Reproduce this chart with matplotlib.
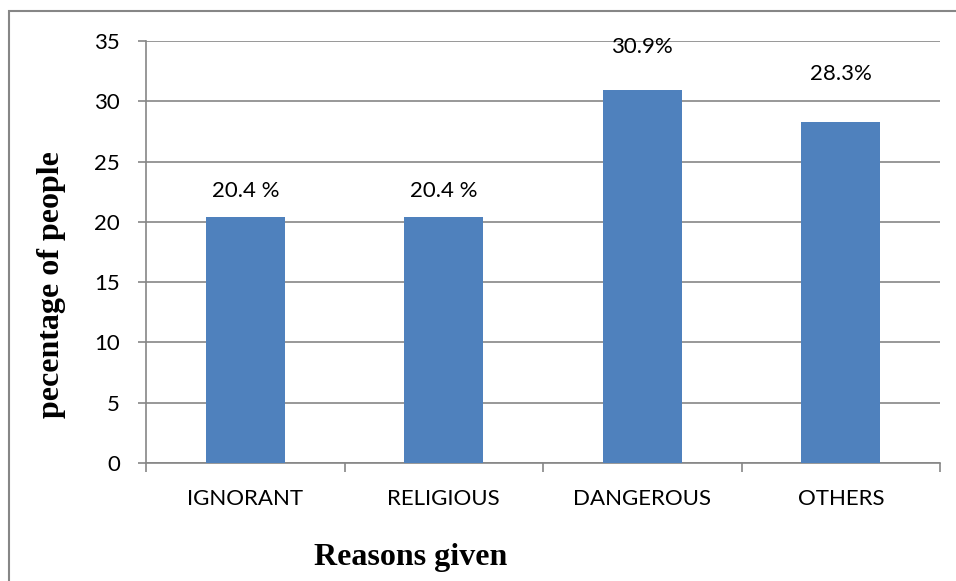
import matplotlib.pyplot as plt
from matplotlib.patches import Rectangle

# Data
reasons = ["IGNORANT", "RELIGIOUS", "DANGEROUS", "OTHERS"]
percent = [20.4, 20.4, 30.9, 28.3]
labels = ["20.4 %", "20.4 %", "30.9%", "28.3%"]
label_y = [22.6, 22.6, 34.5, 32.3]  # where the labels sit (data units)
yticks = [0, 5, 10, 15, 20, 25, 30, 35]

grey = "#868686"
tick_font = "Lato"
fs = 16

fig = plt.figure(figsize=(9.56, 5.81), dpi=100)
ax = fig.add_axes([146 / 956, 1 - 463 / 581, 794 / 956, 422 / 581])

x = range(len(reasons))
ax.bar(x, percent, width=0.4, color="#4F81BD", zorder=3)

for xi, lab, ly in zip(x, labels, label_y):
    ax.text(xi, ly, lab, ha="center", va="center", fontsize=fs,
            family=tick_font, color="black")

ax.set_xlim(-0.5, len(reasons) - 0.5)
ax.set_ylim(0, 35)
ax.set_yticks(yticks)
ax.yaxis.grid(True, color=grey, linewidth=1.2, zorder=0)

# category ticks sit on the boundaries between groups
ax.set_xticks([i - 0.5 for i in range(len(reasons) + 1)])
ax.set_xticklabels([])
ax.set_xticks(list(x), minor=True)
ax.set_xticklabels(reasons, minor=True, fontsize=fs, family=tick_font)
ax.tick_params(axis="x", which="minor", length=0, pad=18.5)
ax.tick_params(axis="x", which="major", length=6.5, width=1.2, color=grey,
               direction="out")
ax.tick_params(axis="y", length=5.8, width=1.2, color=grey, pad=13,
               labelsize=fs)
for t in ax.get_yticklabels():
    t.set_family(tick_font)

for side in ["top", "right"]:
    ax.spines[side].set_visible(False)
for side in ["left", "bottom"]:
    ax.spines[side].set_color(grey)
    ax.spines[side].set_linewidth(1.2)

fig.text(52 / 956, 1 - 285 / 581, "pecentage of people", rotation=90,
         ha="center", va="center", fontsize=23, fontweight="bold",
         family="Liberation Serif")
fig.text(411 / 956, 1 - 557 / 581, "Reasons given", ha="center",
         va="center", fontsize=23, fontweight="bold",
         family="Liberation Serif")

# outer chart border (only left and top edges are in frame)
fig.patches.append(Rectangle((8.5 / 956, -0.1), 1.2, 1.1 - 11 / 581,
                             transform=fig.transFigure, fill=False,
                             edgecolor=grey, linewidth=1.5))

fig.savefig("out.png", dpi=100)
